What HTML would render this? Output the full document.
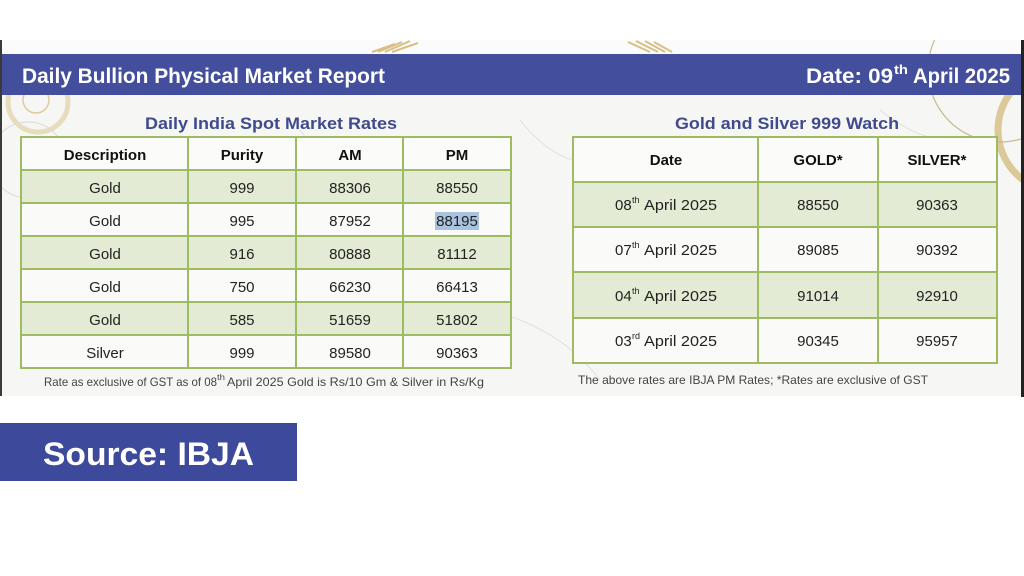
<!DOCTYPE html>
<html>
<head>
<meta charset="utf-8">
<style>
  html,body{margin:0;padding:0;background:#ffffff;}
  svg{display:block;}
  text{font-family:"Liberation Sans",Arial,sans-serif;}
</style>
</head>
<body>
<svg width="1024" height="576" viewBox="0 0 1024 576" xmlns="http://www.w3.org/2000/svg">
  <defs>
    <clipPath id="shot"><rect x="2" y="40" width="1019" height="356"/></clipPath>
  </defs>
  <rect x="0" y="0" width="1024" height="576" fill="#ffffff"/>
  <!-- screenshot region -->
  <rect x="2" y="40" width="1019" height="356" fill="#f6f6f4"/>
  <rect x="0" y="40" width="2" height="356" fill="#3a3a3a"/>
  <rect x="1021" y="40" width="3" height="357" fill="#222"/>
  <rect x="2" y="40" width="1019" height="14" fill="#fbfbfb"/>
  <g clip-path="url(#shot)">
  <!-- marble veins -->
  <g stroke="#dcdcdc" stroke-width="1" fill="none" opacity="0.8">
    <path d="M120 260 Q180 230 240 250 T360 240"/>
    <path d="M300 130 Q340 180 330 230 T380 300"/>
    <path d="M520 120 Q560 170 600 160 T700 200"/>
    <path d="M780 190 Q800 240 790 280 T830 340"/>
    <path d="M60 320 Q120 300 160 340"/>
    <path d="M420 330 Q470 300 520 320 T600 380"/>
    <path d="M880 110 Q930 150 980 140"/>
  </g>
  <!-- wheat decorations -->
  <g stroke="#d8bf85" stroke-width="2" fill="none">
    <path d="M372 52 L395 44 M378 52 L402 42 M385 52 L410 41 M392 52 L418 43"/>
    <path d="M628 42 L650 52 M636 41 L658 52 M645 41 L665 52 M654 42 L672 52"/>
  </g>
  <!-- left decor -->
  <g fill="none">
    <circle cx="38" cy="102" r="30" stroke="#e4d6b0" stroke-width="5" opacity="0.8"/>
    <circle cx="36" cy="100" r="13" stroke="#dccb9c" stroke-width="1.5"/>
    <circle cx="28" cy="160" r="38" stroke="#d9d9d9" stroke-width="1"/>
  </g>
  <!-- right decor -->
  <g fill="none">
    <circle cx="1060" cy="130" r="62" stroke="#d8c48f" stroke-width="7" opacity="0.9"/>
    <circle cx="1000" cy="70" r="72" stroke="#c9b98e" stroke-width="1.2"/>
  </g>
  </g>

  <!-- header band -->
  <rect x="2" y="54" width="1019" height="41" fill="#434f9c"/>
  <text x="22" y="83" font-size="21" font-weight="bold" fill="#ffffff" textLength="363" lengthAdjust="spacingAndGlyphs">Daily Bullion Physical Market Report</text>
  <text x="806" y="83" font-size="21" font-weight="bold" fill="#ffffff" textLength="87" lengthAdjust="spacingAndGlyphs">Date: 09</text>
  <text x="894" y="74" font-size="13" font-weight="bold" fill="#ffffff" textLength="14" lengthAdjust="spacingAndGlyphs">th</text>
  <text x="913" y="83" font-size="21" font-weight="bold" fill="#ffffff" textLength="97" lengthAdjust="spacingAndGlyphs">April 2025</text>

  <!-- Table 1 title -->
  <text x="271" y="129" font-size="17" font-weight="bold" fill="#3f4b8c" text-anchor="middle" textLength="252" lengthAdjust="spacingAndGlyphs">Daily India Spot Market Rates</text>

  <!-- Table 1 -->
  <g>
    <rect x="21" y="137" width="490" height="33" fill="#fbfbfa"/>
    <rect x="21" y="170" width="490" height="33" fill="#e3ebd4"/>
    <rect x="21" y="203" width="490" height="33" fill="#fafaf8"/>
    <rect x="21" y="236" width="490" height="33" fill="#e3ebd4"/>
    <rect x="21" y="269" width="490" height="33" fill="#fafaf8"/>
    <rect x="21" y="302" width="490" height="33" fill="#e3ebd4"/>
    <rect x="21" y="335" width="490" height="33" fill="#fafaf8"/>
    <rect x="435" y="212" width="44" height="18" fill="#a9c3df"/>
    <g stroke="#9dbb61" stroke-width="2" fill="none">
      <rect x="21" y="137" width="490" height="231"/>
      <line x1="21" y1="170" x2="511" y2="170"/>
      <line x1="21" y1="203" x2="511" y2="203"/>
      <line x1="21" y1="236" x2="511" y2="236"/>
      <line x1="21" y1="269" x2="511" y2="269"/>
      <line x1="21" y1="302" x2="511" y2="302"/>
      <line x1="21" y1="335" x2="511" y2="335"/>
      <line x1="188" y1="137" x2="188" y2="368"/>
      <line x1="296" y1="137" x2="296" y2="368"/>
      <line x1="403" y1="137" x2="403" y2="368"/>
    </g>
    <g font-size="15" font-weight="bold" fill="#111" text-anchor="middle">
      <text x="105" y="160">Description</text>
      <text x="242" y="160">Purity</text>
      <text x="350" y="160">AM</text>
      <text x="457" y="160">PM</text>
    </g>
    <g font-size="15" fill="#222" text-anchor="middle">
      <text x="105" y="193">Gold</text><text x="242" y="193">999</text><text x="350" y="193">88306</text><text x="457" y="193">88550</text>
      <text x="105" y="226">Gold</text><text x="242" y="226">995</text><text x="350" y="226">87952</text><text x="457" y="226">88195</text>
      <text x="105" y="259">Gold</text><text x="242" y="259">916</text><text x="350" y="259">80888</text><text x="457" y="259">81112</text>
      <text x="105" y="292">Gold</text><text x="242" y="292">750</text><text x="350" y="292">66230</text><text x="457" y="292">66413</text>
      <text x="105" y="325">Gold</text><text x="242" y="325">585</text><text x="350" y="325">51659</text><text x="457" y="325">51802</text>
      <text x="105" y="358">Silver</text><text x="242" y="358">999</text><text x="350" y="358">89580</text><text x="457" y="358">90363</text>
    </g>
    <text x="44" y="386" font-size="12" fill="#444" textLength="173" lengthAdjust="spacingAndGlyphs">Rate as exclusive of GST as of 08</text>
    <text x="217" y="380" font-size="8" fill="#444" textLength="8" lengthAdjust="spacingAndGlyphs">th</text>
    <text x="227" y="386" font-size="12" fill="#444" textLength="257" lengthAdjust="spacingAndGlyphs">April 2025 Gold is Rs/10 Gm &amp; Silver in Rs/Kg</text>
  </g>

  <!-- Table 2 title -->
  <text x="787" y="129" font-size="17" font-weight="bold" fill="#3f4b8c" text-anchor="middle" textLength="224" lengthAdjust="spacingAndGlyphs">Gold and Silver 999 Watch</text>

  <!-- Table 2 -->
  <g>
    <rect x="573" y="137" width="424" height="45" fill="#fbfbfa"/>
    <rect x="573" y="182" width="424" height="45" fill="#e3ebd4"/>
    <rect x="573" y="227" width="424" height="45" fill="#fafaf8"/>
    <rect x="573" y="272" width="424" height="46" fill="#e3ebd4"/>
    <rect x="573" y="318" width="424" height="45" fill="#fafaf8"/>
    <g stroke="#9dbb61" stroke-width="2" fill="none">
      <rect x="573" y="137" width="424" height="226"/>
      <line x1="573" y1="182" x2="997" y2="182"/>
      <line x1="573" y1="227" x2="997" y2="227"/>
      <line x1="573" y1="272" x2="997" y2="272"/>
      <line x1="573" y1="318" x2="997" y2="318"/>
      <line x1="758" y1="137" x2="758" y2="363"/>
      <line x1="878" y1="137" x2="878" y2="363"/>
    </g>
    <g font-size="15" font-weight="bold" fill="#111" text-anchor="middle">
      <text x="666" y="165">Date</text>
      <text x="818" y="165">GOLD*</text>
      <text x="937" y="165">SILVER*</text>
    </g>
    <g font-size="15" fill="#222">
      <text x="615" y="210">08</text><text x="632" y="203" font-size="9">th</text><text x="644" y="210" textLength="73" lengthAdjust="spacingAndGlyphs">April 2025</text>
      <text x="615" y="255">07</text><text x="632" y="248" font-size="9">th</text><text x="644" y="255" textLength="73" lengthAdjust="spacingAndGlyphs">April 2025</text>
      <text x="615" y="301">04</text><text x="632" y="294" font-size="9">th</text><text x="644" y="301" textLength="73" lengthAdjust="spacingAndGlyphs">April 2025</text>
      <text x="615" y="346">03</text><text x="632" y="339" font-size="9">rd</text><text x="644" y="346" textLength="73" lengthAdjust="spacingAndGlyphs">April 2025</text>
    </g>
    <g font-size="15" fill="#222" text-anchor="middle">
      <text x="818" y="210">88550</text><text x="937" y="210">90363</text>
      <text x="818" y="255">89085</text><text x="937" y="255">90392</text>
      <text x="818" y="301">91014</text><text x="937" y="301">92910</text>
      <text x="818" y="346">90345</text><text x="937" y="346">95957</text>
    </g>
    <text x="578" y="384" font-size="12" fill="#444" textLength="350" lengthAdjust="spacingAndGlyphs">The above rates are IBJA PM Rates; *Rates are exclusive of GST</text>
  </g>

  <!-- Source box -->
  <rect x="0" y="423" width="297" height="58" fill="#3d4a9c"/>
  <text x="43" y="465" font-size="32" font-weight="bold" fill="#ffffff" textLength="211" lengthAdjust="spacingAndGlyphs">Source: IBJA</text>
</svg>
</body>
</html>
